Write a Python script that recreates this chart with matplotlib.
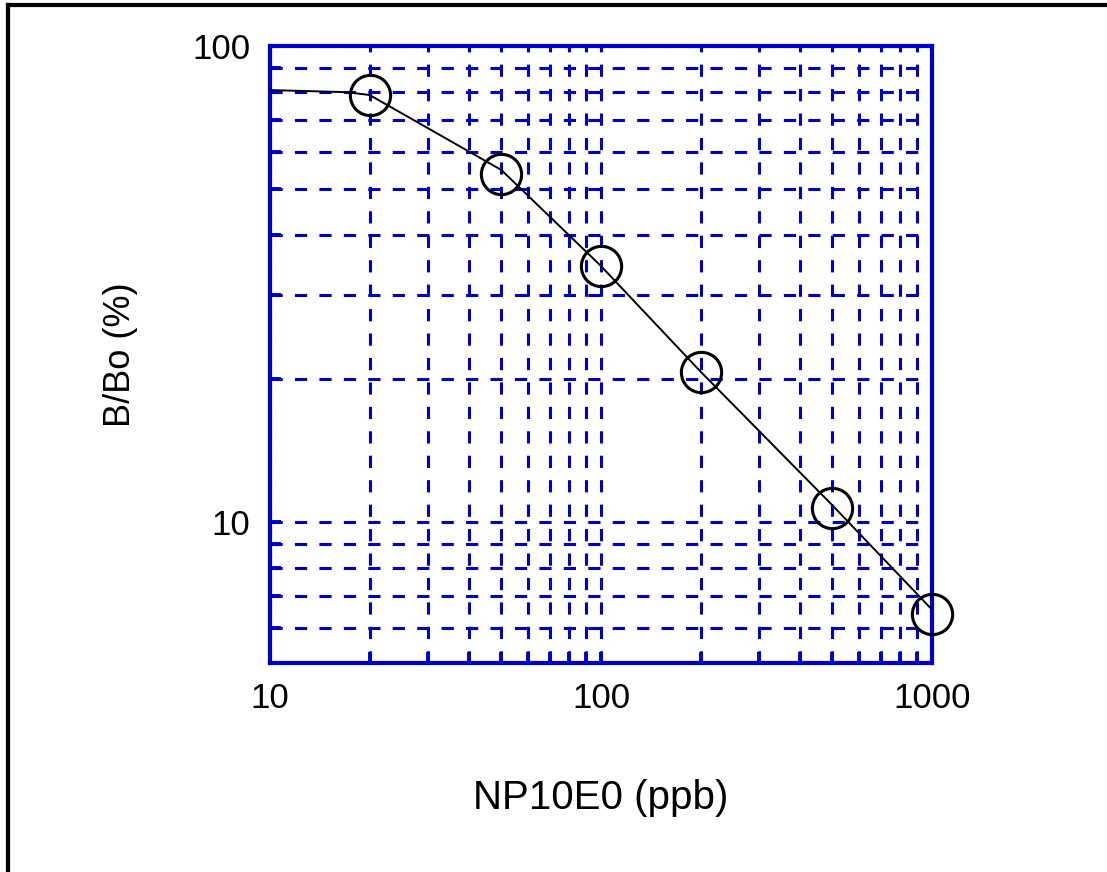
import numpy as np
import matplotlib
matplotlib.use("Agg")
import matplotlib.pyplot as plt
from matplotlib.lines import Line2D
from matplotlib.ticker import LogLocator, FixedLocator, NullFormatter

# measured standards (circles)
conc = [20, 50, 100, 200, 500, 1000]
bbo = [78.9, 53.9, 34.5, 20.7, 10.7, 6.4]

# fitted curve as drawn
curve_x = [10, 17, 20, 50, 100, 200, 500, 1000]
curve_y = [80.8, 80.0, 78.9, 54.9, 34.5, 20.7, 10.85, 6.55]

blue = '#0000CC'
plt.rcParams['font.family'] = ['Liberation Sans', 'DejaVu Sans']

fig = plt.figure(figsize=(11.07, 8.72), dpi=100)
ax = fig.add_axes([270 / 1107, 1 - 663 / 872, 662 / 1107, 617 / 872])

ax.set_xscale('log')
ax.set_yscale('log')
ax.set_xlim(10, 1000)
ax.set_ylim(5.06, 100)

ax.plot(curve_x, curve_y, color='black', lw=1.4, zorder=3)
ax.plot(conc, bbo, 'o', ms=29, mfc='none', mec='black', mew=2.2, zorder=4, clip_on=False)

# grid on every decade and sub-decade
ax.xaxis.set_major_locator(FixedLocator([10, 100, 1000]))
ax.yaxis.set_major_locator(FixedLocator([10, 100]))
ax.xaxis.set_minor_locator(LogLocator(base=10, subs=np.arange(2, 10)))
ax.yaxis.set_minor_locator(LogLocator(base=10, subs=np.arange(2, 10)))
ax.xaxis.set_minor_formatter(NullFormatter())
ax.yaxis.set_minor_formatter(NullFormatter())
ax.set_xticklabels(['10', '100', '1000'])
ax.set_yticklabels(['10', '100'])

ax.grid(True, which='both', color=blue, lw=2.2, ls=(0, (4, 4)), zorder=1)
ax.tick_params(which='both', direction='in', color=blue, length=8, width=2.8,
               top=False, right=False)
ax.tick_params(which='major', labelsize=25, pad=14)
for s in ax.spines.values():
    s.set_color(blue)
    s.set_linewidth(3)

ax.set_xlabel('NP10E0 (ppb)', fontsize=29, labelpad=46)
ax.set_ylabel('B/Bo (%)', fontsize=26, labelpad=39)

# partial frame around the figure (left and top only)
fig.add_artist(Line2D([8 / 1107, 8 / 1107], [0, 1 - 5 / 872], color='black', lw=3,
                      transform=fig.transFigure))
fig.add_artist(Line2D([8 / 1107, 1], [1 - 5 / 872, 1 - 5 / 872], color='black', lw=3,
                      transform=fig.transFigure))

fig.savefig('out.png', dpi=100)
